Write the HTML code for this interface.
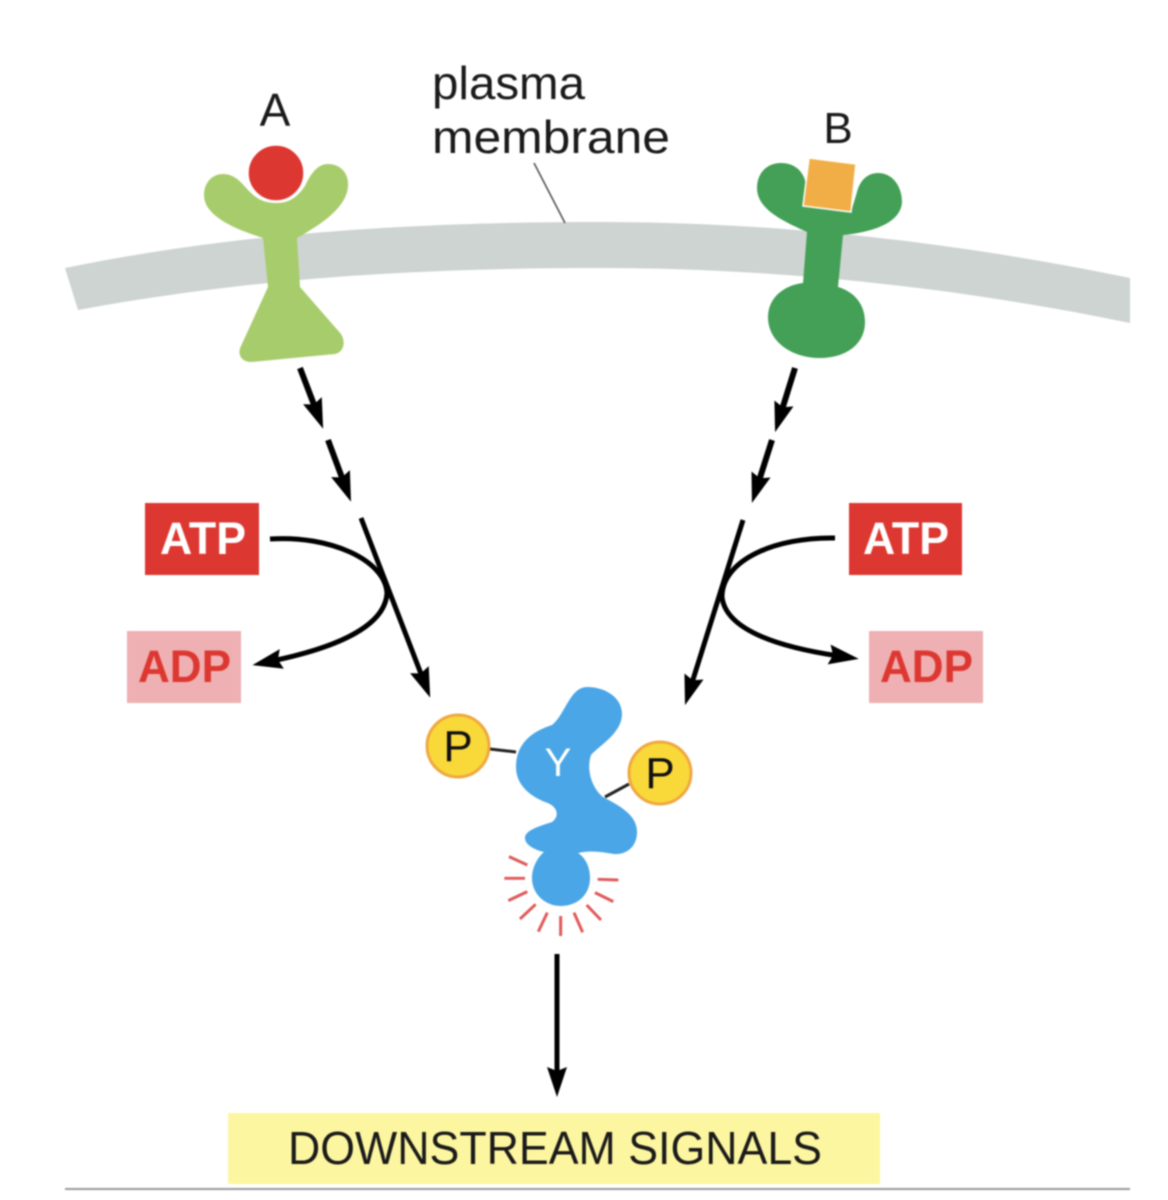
<!DOCTYPE html>
<html>
<head>
<meta charset="utf-8">
<style>
html,body{margin:0;padding:0;background:#fff;width:1168px;height:1200px;overflow:hidden}
svg{display:block;filter:blur(.8px)}
text{font-family:"Liberation Sans",sans-serif}
</style>
</head>
<body>
<svg width="1168" height="1200" viewBox="0 0 1168 1200" xmlns="http://www.w3.org/2000/svg">
<defs>
<marker id="h" markerUnits="userSpaceOnUse" markerWidth="40" markerHeight="26" viewBox="0 -13 40 26" refX="10" refY="0" orient="auto">
<path d="M0,-10 L30,0 L0,10 L4,0 Z" fill="#000"/>
</marker>
</defs>
<rect width="1168" height="1200" fill="#fff"/>

<!-- membrane -->
<path d="M65,268 C240,232 420,222 600,222 C790,222 970,245 1130,278 L1130,323 C970,290 790,268 600,268 C420,268 250,278 78,310 Z" fill="#cdd4d1"/>
<path d="M534,163 L565,223" stroke="#555" stroke-width="1.6" fill="none"/>

<!-- receptor A -->
<path d="M223,174 C236,174 243,185 250,192 C258,200 266,203 277,203 C290,203 298,196 305,186 C311,173 318,164 328,164 C341,164 349,174 348,186 C347,207 322,224 297,238 L300,287 L341,334 C346,342 344,352 335,354 L251,362 C241,362 237,354 241,346 L268,287 L263,238 C238,230 204,217 204,195 C204,183 212,174 223,174 Z" fill="#a7cc6c"/>
<circle cx="276" cy="173" r="28" fill="#dd3731" stroke="#fff" stroke-width="1.5"/>

<!-- receptor B -->
<path d="M781,163 C795,163 805,172 806,186 L803,206 L851,212 L857,192 C860,180 868,173 878,173 C893,173 902,187 902,202 C901,222 875,232 843,235 L838,287 C855,292 865,305 865,322 C865,345 845,358 820,358 C792,358 768,342 768,317 C768,297 785,285 803,283 L807,232 C785,222 757,210 757,188 C757,173 767,163 781,163 Z" fill="#43a056"/>
<path d="M809,158 L856,164 L851,212 L803,206 Z" fill="#f2ae46" stroke="#fff" stroke-width="1.5"/>

<!-- arrows left -->
<g fill="none" stroke="#000" stroke-width="6">
<path d="M300,368 L316,410" marker-end="url(#h)"/>
<path d="M328,440 L344,483" marker-end="url(#h)"/>
<path d="M795,368 L781,413" marker-end="url(#h)"/>
<path d="M772,440 L758,484" marker-end="url(#h)"/>
</g>
<g fill="none" stroke="#000" stroke-width="5">
<path d="M361,518 L423,679" marker-end="url(#h)"/>
<path d="M270,539 C330,535 385,560 387,593 C385,630 325,650 272,661" marker-end="url(#h)"/>
<path d="M743,520 L691,686" marker-end="url(#h)"/>
<path d="M835,538 C775,537 722,560 722,597 C726,632 785,648 839,656" marker-end="url(#h)"/>
<path d="M557,954 L557,1077" marker-end="url(#h)"/>
</g>

<!-- boxes -->
<rect x="145" y="503" width="114" height="72" fill="#dd3731"/>
<text x="160" y="554" font-size="45" font-weight="bold" fill="#fff" textLength="86" lengthAdjust="spacingAndGlyphs">ATP</text>
<rect x="127" y="631" width="114" height="72" fill="#eeb0b2"/>
<text x="138" y="682" font-size="45" font-weight="bold" fill="#dd3731" textLength="93" lengthAdjust="spacingAndGlyphs">ADP</text>
<rect x="849" y="503" width="113" height="72" fill="#dd3731"/>
<text x="863" y="554" font-size="45" font-weight="bold" fill="#fff" textLength="86" lengthAdjust="spacingAndGlyphs">ATP</text>
<rect x="869" y="631" width="114" height="72" fill="#eeb0b2"/>
<text x="880" y="682" font-size="45" font-weight="bold" fill="#dd3731" textLength="93" lengthAdjust="spacingAndGlyphs">ADP</text>

<!-- Y protein -->
<path d="M490,749 L516,752 M605,797 L629,784" stroke="#222" stroke-width="3" fill="none"/>
<path d="M587,687 C606,687 622,698 622,714 C622,733 600,745 591,755 C586,770 592,788 603,797 C620,806 637,815 637,832 C637,848 625,855 614,854 C602,852 590,850 578,853 C586,858 590,868 590,878 C590,895 577,906 561,906 C545,906 532,894 532,878 C532,868 537,858 544,852 C535,850 525,845 525,838 C525,830 540,826 552,822 C560,816 558,806 545,802 C530,796 516,785 516,767 C516,745 530,732 552,725 C565,715 570,687 587,687 Z" fill="#4aa6e6"/>
<text x="558" y="776" font-size="40" fill="#fff" text-anchor="middle">Y</text>

<!-- P -->
<circle cx="458" cy="746" r="31" fill="#f9d83a" stroke="#f0a840" stroke-width="3"/>
<text x="458" y="761" font-size="44" fill="#111" text-anchor="middle">P</text>
<circle cx="660" cy="773" r="31" fill="#f9d83a" stroke="#f0a840" stroke-width="3"/>
<text x="660" y="788" font-size="44" fill="#111" text-anchor="middle">P</text>

<!-- rays -->
<g transform="translate(410,670) scale(.3333)" stroke="#df5a5a" stroke-width="9" fill="none">
<path d="M297,560 L352,585 M283,625 L345,625 M295,692 L352,665 M330,747 L377,703 M385,785 L412,728 M452,798 L452,738 M518,787 L492,728 M573,750 L530,705 M610,695 L555,668 M625,630 L563,628"/>
</g>

<!-- labels -->
<text x="432" y="99" font-size="46" fill="#1a1a1a" textLength="153" lengthAdjust="spacingAndGlyphs">plasma</text>
<text x="432" y="153" font-size="46" fill="#1a1a1a" textLength="238" lengthAdjust="spacingAndGlyphs">membrane</text>
<text x="275" y="126" font-size="46" fill="#1a1a1a" text-anchor="middle">A</text>
<text x="838" y="143" font-size="44" fill="#1a1a1a" text-anchor="middle">B</text>

<!-- signals -->
<rect x="228" y="1113" width="652" height="71" fill="#fdf6a0"/>
<text x="288" y="1164" font-size="46" fill="#1a1a1a" textLength="534" lengthAdjust="spacingAndGlyphs">DOWNSTREAM SIGNALS</text>
<rect x="65" y="1188" width="1065" height="2" fill="#999"/>
</svg>
</body>
</html>
